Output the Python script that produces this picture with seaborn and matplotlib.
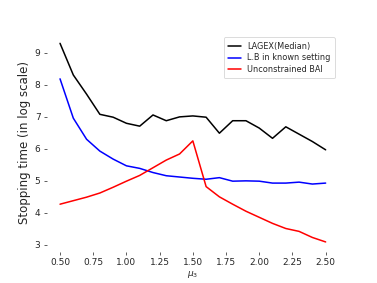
import numpy as np
import pandas as pd
import seaborn as sns
import matplotlib
matplotlib.use("Agg")
import matplotlib.pyplot as plt

# mu_3 values on the x axis
mu3 = [0.5, 0.6, 0.7, 0.8, 0.9, 1.0, 1.1, 1.2, 1.3, 1.4, 1.5,
       1.6, 1.7, 1.8, 1.9, 2.0, 2.1, 2.2, 2.3, 2.4, 2.5]

# stopping times (log scale)
lagex_median = [9.30, 8.31, 7.71, 7.08, 6.99, 6.80, 6.71, 7.06, 6.88, 7.00, 7.03,
                6.99, 6.49, 6.88, 6.88, 6.65, 6.33, 6.69, 6.46, 6.23, 5.97]
lb_known = [8.19, 6.96, 6.30, 5.93, 5.68, 5.47, 5.39, 5.26, 5.16, 5.12, 5.08,
            5.05, 5.10, 4.99, 5.00, 4.99, 4.93, 4.93, 4.96, 4.90, 4.93]
unconstrained_bai = [4.27, 4.38, 4.49, 4.62, 4.80, 4.99, 5.17, 5.41, 5.65, 5.84, 6.25,
                     4.82, 4.50, 4.27, 4.05, 3.86, 3.67, 3.51, 3.42, 3.23, 3.09]

series_names = ["LAGEX(Median)", "L.B in known setting", "Unconstrained BAI"]
series_colors = ["black", "blue", "red"]

df = pd.DataFrame({
    "mu3": mu3 * 3,
    "value": lagex_median + lb_known + unconstrained_bai,
    "series": np.repeat(series_names, len(mu3)),
})

sns.set_style("ticks")

fig = plt.figure(figsize=(3.77, 2.83), dpi=100)
ax = fig.add_axes([0.124, 0.110, 0.775, 0.772])

sns.lineplot(data=df, x="mu3", y="value", hue="series",
             palette=dict(zip(series_names, series_colors)),
             linewidth=1.1, ax=ax)

sns.despine(ax=ax, left=True, bottom=True)
ax.set_xticks([0.5, 0.75, 1.0, 1.25, 1.5, 1.75, 2.0, 2.25, 2.5])
ax.set_xticklabels(["0.50", "0.75", "1.00", "1.25", "1.50", "1.75", "2.00", "2.25", "2.50"])
ax.set_yticks([3, 4, 5, 6, 7, 8, 9])
ax.tick_params(labelsize=6.5, length=2.5, width=0.6, color="#444444", pad=2)
ax.set_xlabel(r"$\mu_3$", fontsize=6.5, labelpad=1)
ax.set_ylabel("Stopping time (in log scale)", fontsize=8.5, labelpad=3)

leg = ax.legend(loc="upper right", fontsize=5.9, frameon=True,
                bbox_to_anchor=(1.0, 1.0), handlelength=1.6,
                handletextpad=0.8, borderpad=0.5, labelspacing=0.35)
leg.get_frame().set_edgecolor("#cccccc")
leg.get_frame().set_linewidth(0.6)

fig.savefig("out.png", dpi=100)
